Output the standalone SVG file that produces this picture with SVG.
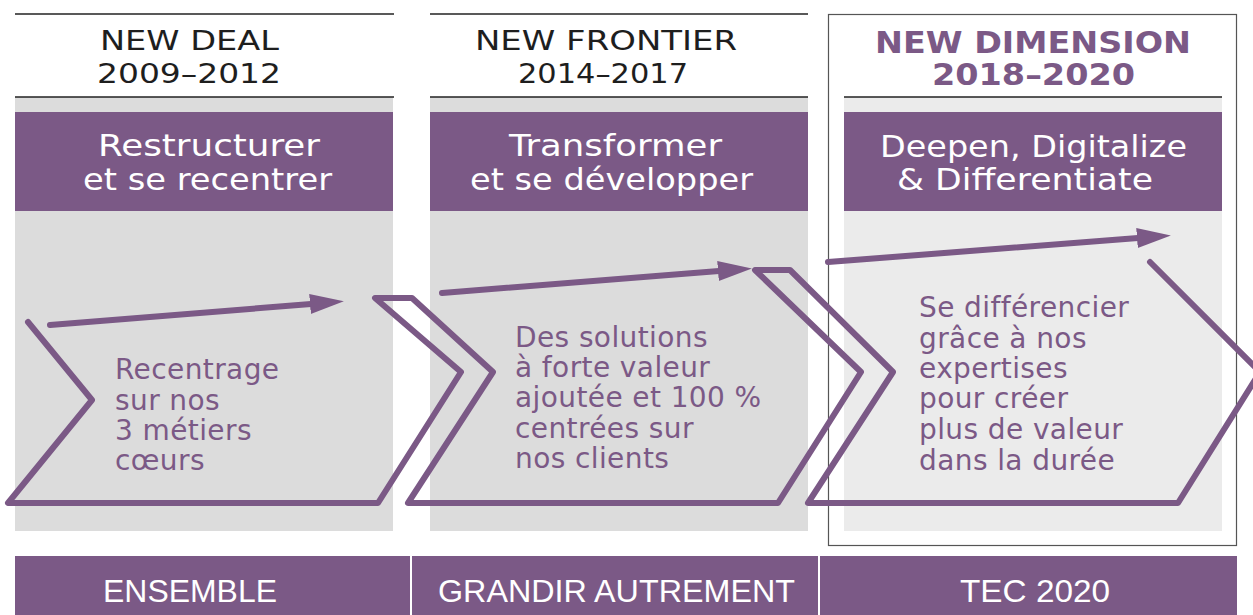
<svg xmlns="http://www.w3.org/2000/svg" width="1253" height="615" viewBox="0 0 1253 615">
  <style>
    .rule { stroke: #222; stroke-width: 1.5; }
    .panel { fill: #dcdcdc; }
    .panel-lt { fill: #ebebeb; }
    .band { fill: #7b5986; }
    .head { font-family: "DejaVu Sans", "Liberation Sans", sans-serif; font-size: 27px; fill: #1e1e1e; }
    .head-b { font-family: "DejaVu Sans", "Liberation Sans", sans-serif; font-size: 30px; font-weight: bold; fill: #7b5986; }
    .band-t { font-family: "DejaVu Sans", "Liberation Sans", sans-serif; font-size: 30px; fill: #fff; }
    .body { font-family: "DejaVu Sans", "Liberation Sans", sans-serif; font-size: 28px; letter-spacing: 0.4px; fill: #7b5986; }
    .foot { font-family: "Liberation Sans", "DejaVu Sans", sans-serif; font-size: 32px; fill: #fff; }
    .chev { fill: none; stroke: #7b5986; stroke-width: 6; stroke-linejoin: round; stroke-linecap: round; }
    .arr { fill: none; stroke: #7b5986; stroke-width: 6; stroke-linecap: round; marker-end: url(#head); }
  </style>
  <defs>
    <marker id="head" markerUnits="userSpaceOnUse" markerWidth="40" markerHeight="24" viewBox="0 -12 40 24" refX="1" refY="0" orient="auto">
      <path d="M0,-10 L34,0 L0,10 z" fill="#7b5986"/>
    </marker>
  </defs>

  <!-- phase 1: New Deal -->
  <g id="phase-new-deal">
    <line class="rule" x1="15" y1="14" x2="394" y2="14"/>
    <text class="head" x="100" y="50" textLength="179" lengthAdjust="spacingAndGlyphs">NEW DEAL</text>
    <text class="head" x="97" y="83" textLength="184" lengthAdjust="spacingAndGlyphs">2009–2012</text>
    <rect class="panel" x="15" y="97" width="378" height="434"/>
    <line class="rule" x1="15" y1="97" x2="394" y2="97"/>
    <rect class="band" x="15" y="112" width="378" height="99"/>
    <text class="band-t" x="98" y="156" textLength="222" lengthAdjust="spacingAndGlyphs">Restructurer</text>
    <text class="band-t" x="83" y="190" textLength="249" lengthAdjust="spacingAndGlyphs">et se recentrer</text>
  </g>

  <!-- phase 2: New Frontier -->
  <g id="phase-new-frontier">
    <line class="rule" x1="430" y1="14" x2="808" y2="14"/>
    <text class="head" x="475" y="50" textLength="262" lengthAdjust="spacingAndGlyphs">NEW FRONTIER</text>
    <text class="head" x="518" y="83" textLength="170" lengthAdjust="spacingAndGlyphs">2014–2017</text>
    <rect class="panel" x="430" y="97" width="378" height="434"/>
    <line class="rule" x1="430" y1="97" x2="808" y2="97"/>
    <rect class="band" x="430" y="112" width="378" height="99"/>
    <text class="band-t" x="509" y="156" textLength="213" lengthAdjust="spacingAndGlyphs">Transformer</text>
    <text class="band-t" x="470" y="190" textLength="283" lengthAdjust="spacingAndGlyphs">et se développer</text>
  </g>

  <!-- phase 3: New Dimension (framed) -->
  <g id="phase-new-dimension">
    <rect x="828.5" y="14.5" width="408" height="531" fill="#fff" stroke="#555" stroke-width="1.2"/>
    <text class="head-b" x="875" y="53" textLength="316" lengthAdjust="spacingAndGlyphs">NEW DIMENSION</text>
    <text class="head-b" x="932" y="85" textLength="203" lengthAdjust="spacingAndGlyphs">2018–2020</text>
    <rect class="panel-lt" x="844" y="97" width="378" height="434"/>
    <line class="rule" x1="844" y1="97" x2="1222" y2="97"/>
    <rect class="band" x="844" y="112" width="378" height="99"/>
    <text class="band-t" x="880" y="157" textLength="307" lengthAdjust="spacingAndGlyphs">Deepen, Digitalize</text>
    <text class="band-t" x="897" y="190" textLength="256" lengthAdjust="spacingAndGlyphs">&amp; Differentiate</text>
  </g>

  <!-- chevrons and progress arrows -->
  <g id="connectors">
    <path class="chev" d="M28,322 L92,400 L8,503 L378,503 L461,372 L375,298 L412,298 L493,372 L408,503 L778,503 L861,372 L755,270 L790,270 L893,372 L808,503 L1178,503 L1260,372 L1150,262"/>
    <line class="arr" x1="50" y1="325" x2="311" y2="304"/>
    <line class="arr" x1="442" y1="293" x2="719" y2="271"/>
    <line class="arr" x1="828" y1="262" x2="1138" y2="238"/>
  </g>

  <!-- chevron texts -->
  <g id="text-recentrage">
    <text class="body" x="115" y="379">Recentrage</text>
    <text class="body" x="115" y="410">sur nos</text>
    <text class="body" x="115" y="440">3 métiers</text>
    <text class="body" x="115" y="470">cœurs</text>
  </g>
  <g id="text-solutions">
    <text class="body" x="515" y="347">Des solutions</text>
    <text class="body" x="515" y="377">à forte valeur</text>
    <text class="body" x="515" y="407">ajoutée et 100 %</text>
    <text class="body" x="515" y="438">centrées sur</text>
    <text class="body" x="515" y="468">nos clients</text>
  </g>
  <g id="text-differencier">
    <text class="body" x="919" y="317">Se différencier</text>
    <text class="body" x="919" y="348">grâce à nos</text>
    <text class="body" x="919" y="378">expertises</text>
    <text class="body" x="919" y="408">pour créer</text>
    <text class="body" x="919" y="439">plus de valeur</text>
    <text class="body" x="919" y="470">dans la durée</text>
  </g>

  <!-- programme bars -->
  <g id="bar-ensemble">
    <rect class="band" x="15" y="556" width="395" height="59"/>
    <text class="foot" x="103" y="602" textLength="174" lengthAdjust="spacingAndGlyphs">ENSEMBLE</text>
  </g>
  <g id="bar-grandir">
    <rect class="band" x="412" y="556" width="406" height="59"/>
    <text class="foot" x="438" y="602" textLength="357" lengthAdjust="spacingAndGlyphs">GRANDIR AUTREMENT</text>
  </g>
  <g id="bar-tec">
    <rect class="band" x="820" y="556" width="417" height="59"/>
    <text class="foot" x="960" y="602" textLength="150" lengthAdjust="spacingAndGlyphs">TEC 2020</text>
  </g>
</svg>
